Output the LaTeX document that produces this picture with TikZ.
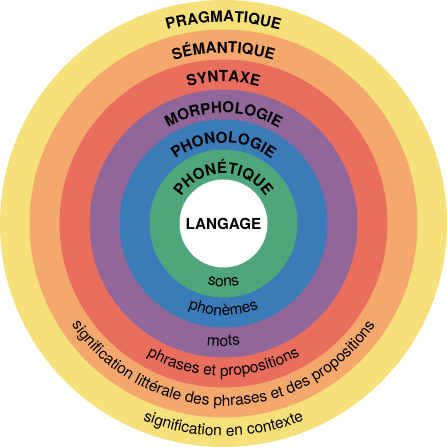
\documentclass[tikz,border=0pt]{standalone}
\usepackage{fontspec}
\setmainfont{TeX Gyre Heros}
\usetikzlibrary{decorations.text}
\definecolor{cYellow}{RGB}{246,224,122}
\definecolor{cOrange}{RGB}{245,168,107}
\definecolor{cRed}{RGB}{234,110,94}
\definecolor{cPurple}{RGB}{145,102,153}
\definecolor{cBlue}{RGB}{58,124,183}
\definecolor{cGreen}{RGB}{80,166,123}
\newcommand{\toplbl}[2]{%
  \path[decorate,decoration={text along path,text align=center,
    text={|\fontsize{15.2}{18}\selectfont\bfseries|#2}}]
    (c) ++(180:#1pt) arc[start angle=180,end angle=0,radius=#1pt];}
\newcommand{\botlbl}[2]{%
  \path[decorate,decoration={text along path,text align=center,
    text={|\fontsize{15.5}{18}\selectfont|#2}}]
    (c) ++(180:#1pt) arc[start angle=180,end angle=360,radius=#1pt];}
\begin{document}
\begin{tikzpicture}[x=1pt,y=1pt]
\useasboundingbox (0,0) rectangle (447,447);
\fill[white] (0,0) rectangle (447,447);
\coordinate (c) at (223.5,223.5);
\fill[cYellow] (c) circle[radius=223.5pt];
\fill[cOrange] (c) circle[radius=194pt];
\fill[cRed] (c) circle[radius=164pt];
\fill[cPurple] (c) circle[radius=134pt];
\fill[cBlue] (c) circle[radius=104pt];
\fill[cGreen] (c) circle[radius=74pt];
\fill[white] (c) circle[radius=44pt];
\node[font=\fontsize{15.2}{18}\selectfont\bfseries] (langage) at (c) {LANGAGE};
\toplbl{201.5}{PRAGMATIQUE}
\toplbl{170.5}{SÉMANTIQUE}
\toplbl{141.5}{SYNTAXE}
\toplbl{110.5}{MORPHOLOGIE}
\toplbl{80.5}{PHONOLOGIE}
\toplbl{50}{PHONÉTIQUE}
\botlbl{63}{sons}
\botlbl{92}{phonèmes}
\botlbl{122.5}{mots}
\botlbl{152.5}{phrases et propositions}
\botlbl{182.5}{signification littérale des phrases et des propositions}
\botlbl{212.5}{signification en contexte}
\end{tikzpicture}
\end{document}
